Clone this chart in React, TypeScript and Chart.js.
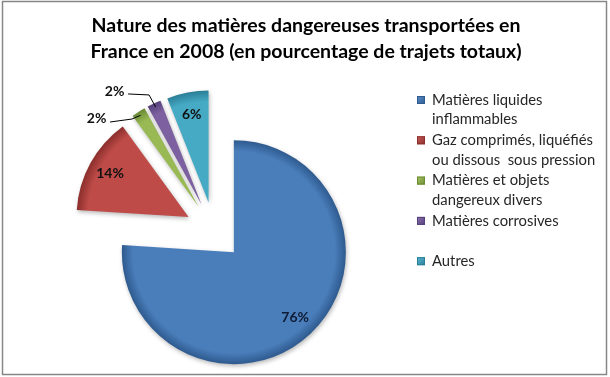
import React, { useEffect, useRef } from 'react';
import { Chart, registerables, ArcElement, PieController } from 'chart.js';

// ---------- data ----------
const TITLE_LINES = [
  'Nature des matières dangereuses transportées en',
  'France en 2008 (en pourcentage de trajets totaux)',
];
const CATEGORY_LINES: string[][] = [
  ['Matières liquides', 'inflammables'],
  ['Gaz comprimés, liquéfiés', 'ou dissous  sous pression'],
  ['Matières et objets', 'dangereux divers'],
  ['Matières corrosives'],
  ['Autres'],
];
const VALUES = [76, 14, 2, 2, 6];

// ---------- styles ----------
const COLORS = ['#4A7EBB', '#BE4B48', '#98B954', '#7D60A0', '#46AAC5'];
const EDGE_COLORS = ['#2E5A8E', '#8A2E2B', '#6A8A34', '#55407A', '#2A7E96'];
const LIGHT_COLORS = ['#5B8FCB', '#CD5D5A', '#A9C866', '#8E72B1', '#59BAD4'];
const RADIUS = 112;
const EXPLODE = 29;
const FONT = 'Lato, "Open Sans", "DejaVu Sans", sans-serif';

// leader-line geometry for small slices (relative to the slice's outer point)
const LEADERS: Record<number, { elbow: [number, number]; end: [number, number]; label: [number, number] }> = {
  2: { elbow: [-8.6, 3.7], end: [-30.6, 6.7], label: [-44, 2.7] },
  3: { elbow: [-6.6, -12.1], end: [-27.6, -13.1], label: [-41, -15.1] },
};

class ExplodedArc extends ArcElement {
  static id = 'explodedArc';
  draw(ctx: CanvasRenderingContext2D) {
    const self: any = this;
    const mid = (self.startAngle + self.endAngle) / 2;
    ctx.save();
    ctx.translate(Math.cos(mid) * EXPLODE, Math.sin(mid) * EXPLODE);
    ctx.shadowColor = 'rgba(0,0,0,0.28)';
    ctx.shadowBlur = 4;
    ctx.shadowOffsetX = 1;
    ctx.shadowOffsetY = 2;
    super.draw(ctx);
    ctx.restore();
  }
}

class ExplodedPie extends PieController {
  static id = 'explodedPie';
  static defaults = { dataElementType: 'explodedArc' };
}

Chart.register(...registerables);
Chart.register(ExplodedArc as any, ExplodedPie as any);

const decor = {
  id: 'decor',
  afterDraw(chart: any) {
    const ctx: CanvasRenderingContext2D = chart.ctx;
    ctx.save();
    // frame
    ctx.strokeStyle = '#878787';
    ctx.lineWidth = 1.5;
    ctx.strokeRect(2.5, 1.5, 604, 373);

    // title
    ctx.fillStyle = '#000000';
    ctx.font = `bold 19.5px ${FONT}`;
    ctx.textAlign = 'center';
    ctx.textBaseline = 'alphabetic';
    ctx.fillText(TITLE_LINES[0], 306, 32, 438);
    ctx.fillText(TITLE_LINES[1], 306, 58, 441);

    // legend
    ctx.textAlign = 'left';
    ctx.textBaseline = 'middle';
    ctx.font = `14.8px ${FONT}`;
    CATEGORY_LINES.forEach((lines, i) => {
      const y0 = 100 + i * 40.3;
      const g = ctx.createLinearGradient(417, y0 - 4, 425, y0 + 4);
      g.addColorStop(0, LIGHT_COLORS[i]);
      g.addColorStop(1, EDGE_COLORS[i]);
      ctx.fillStyle = g;
      ctx.fillRect(417, y0 - 4, 8, 8);
      ctx.strokeStyle = EDGE_COLORS[i];
      ctx.lineWidth = 1;
      ctx.strokeRect(417.5, y0 - 3.5, 7, 7);
      ctx.fillStyle = '#262626';
      lines.forEach((t, j) => {
        ctx.fillText(t, 432, y0 + j * 19.5);
      });
    });

    // percentage labels
    const meta = chart.getDatasetMeta(0);
    ctx.font = `bold 14px ${FONT}`;
    ctx.textAlign = 'center';
    ctx.textBaseline = 'middle';
    meta.data.forEach((el: any, i: number) => {
      const mid = (el.startAngle + el.endAngle) / 2;
      const dx = Math.cos(mid), dy = Math.sin(mid);
      const cx = el.x + dx * EXPLODE;
      const cy = el.y + dy * EXPLODE;
      const r = el.outerRadius;
      const text = `${VALUES[i]}%`;
      const leader = LEADERS[i];
      if (!leader) {
        ctx.fillStyle = i === 0 ? '#0E1B33' : '#111111';
        ctx.fillText(text, cx + dx * r * 0.8, cy + dy * r * 0.8);
      } else {
        const px = cx + dx * (r - 4);
        const py = cy + dy * (r - 4);
        ctx.strokeStyle = '#000000';
        ctx.lineWidth = 1;
        ctx.beginPath();
        ctx.moveTo(px, py);
        ctx.lineTo(px + leader.elbow[0], py + leader.elbow[1]);
        ctx.lineTo(px + leader.end[0], py + leader.end[1]);
        ctx.stroke();
        ctx.fillStyle = '#111111';
        ctx.fillText(text, px + leader.label[0], py + leader.label[1]);
      }
    });
    ctx.restore();
  },
};

export default function App() {
  const ref = useRef<HTMLCanvasElement>(null);
  useEffect(() => {
    if (!ref.current) return;
    const chart = new Chart(ref.current, {
      type: 'explodedPie' as any,
      data: {
        labels: CATEGORY_LINES.map((l) => l.join(' ')),
        datasets: [
          {
            data: VALUES,
            radius: RADIUS,
            borderWidth: 0,
            clip: false,
            backgroundColor: (c: any) => {
              const i = c.dataIndex ?? 0;
              const area = c.chart.chartArea;
              if (!area) return COLORS[i];
              const cx = (area.left + area.right) / 2;
              const cy = (area.top + area.bottom) / 2;
              const g = c.chart.ctx.createRadialGradient(cx, cy, 0, cx, cy, RADIUS);
              g.addColorStop(0, COLORS[i]);
              g.addColorStop(0.9, COLORS[i]);
              g.addColorStop(1, EDGE_COLORS[i]);
              return g;
            },
          } as any,
        ],
      },
      options: {
        responsive: false,
        animation: false,
        devicePixelRatio: 1,
        events: [],
        rotation: 0,
        layout: { padding: { left: 0, right: 182, top: 85, bottom: 0 } },
        plugins: {
          legend: { display: false },
          title: { display: false },
          tooltip: { enabled: false },
        },
      } as any,
      plugins: [decor],
    });
    return () => chart.destroy();
  }, []);
  return (
    <div style={{ position: 'fixed', left: 0, top: 0, width: 610, height: 377, background: '#ffffff' }}>
      <canvas ref={ref} width={610} height={377} style={{ display: 'block' }} />
    </div>
  );
}
